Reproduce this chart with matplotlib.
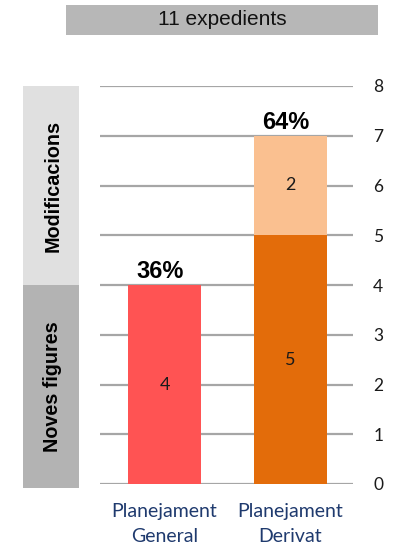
import matplotlib
matplotlib.use("Agg")
import matplotlib.pyplot as plt
from matplotlib.patches import Rectangle
import matplotlib.transforms as mtransforms

categories = ["Planejament\nGeneral", "Planejament\nDerivat"]
noves_figures = [4, 5]
modificacions = [0, 2]
pct_labels = ["36%", "64%"]
yticks = [0, 1, 2, 3, 4, 5, 6, 7, 8]
title = "11 expedients"
side_labels = ["Modificacions", "Noves figures"]

W, H = 403, 547
fig = plt.figure(figsize=(W / 100, H / 100), dpi=100)
ax = fig.add_axes([100 / W, 1 - 484 / H, 253 / W, (484 - 86) / H])

bottom_colors = ["#FF5353", "#E36C0A"]
top_color = "#FAC090"
x = list(range(len(categories)))
bw = 0.58

for yv in yticks:
    ax.axhline(yv, color="#A6A6A6", lw=1.6, zorder=1)

ax.bar(x, noves_figures, width=bw, color=bottom_colors, zorder=2)
ax.bar(x, modificacions, width=bw, bottom=noves_figures, color=top_color, zorder=2)

calib = ["Lato", "DejaVu Sans"]
for i in x:
    ax.text(i, noves_figures[i] / 2, str(noves_figures[i]), ha="center", va="center",
            fontsize=13, family=calib, color="#1a1a1a", zorder=3)
    if modificacions[i] > 0:
        ax.text(i, noves_figures[i] + modificacions[i] / 2, str(modificacions[i]),
                ha="center", va="center", fontsize=13, family=calib, color="#1a1a1a", zorder=3)
    total = noves_figures[i] + modificacions[i]
    ax.text(i - 0.036, total + 0.14, pct_labels[i], ha="center", va="baseline", fontsize=17,
            fontweight="bold", family="Liberation Sans", color="black", zorder=3)

ax.set_xlim(-0.512, 1.496)
ax.set_ylim(0, 8)
ax.yaxis.tick_right()
ax.set_yticks(yticks)
ax.set_yticklabels([str(v) for v in yticks], family=calib, fontsize=12.5, color="#1a1a1a")
ax.tick_params(axis="y", length=0, pad=14.5)
ax.set_xticks([])
for s in ax.spines.values():
    s.set_visible(False)

# category labels
ct = mtransforms.blended_transform_factory(ax.transData, fig.transFigure)
for i, c in enumerate(categories):
    for j, line in enumerate(c.split("\n")):
        ax.text(i, 1 - (511 + 26 * j) / H, line, ha="center", va="center", fontsize=14,
                family=calib, color="#1F3A6E", transform=ct, clip_on=False)

# side boxes
bt = mtransforms.blended_transform_factory(fig.transFigure, ax.transData)
fig.patches.append(Rectangle((23 / W, 4), 56 / W, 4, transform=bt, facecolor="#E0E0E0",
                             edgecolor="none", figure=fig))
fig.patches.append(Rectangle((23 / W, -0.08), 56 / W, 4.08, transform=bt, facecolor="#B3B3B3",
                             edgecolor="none", figure=fig))
fig.text(53 / W, 6.0, side_labels[0], transform=bt, rotation=90, ha="center", va="center",
         fontsize=14.2, fontweight="bold", family="Liberation Sans", color="black")
fig.text(53 / W, 1.95, side_labels[1], transform=bt, rotation=90, ha="center", va="center",
         fontsize=14.2, fontweight="bold", family="Liberation Sans", color="black")

# title box
fig.patches.append(Rectangle((66 / W, 1 - 35 / H), 312 / W, 30 / H, transform=fig.transFigure,
                             facecolor="#B7B7B7", edgecolor="none", figure=fig))
fig.text(222 / W, 1 - 25 / H, title, ha="center", va="baseline", fontsize=15,
         family="Liberation Sans", color="#111111")

fig.savefig("out.png", dpi=100)
